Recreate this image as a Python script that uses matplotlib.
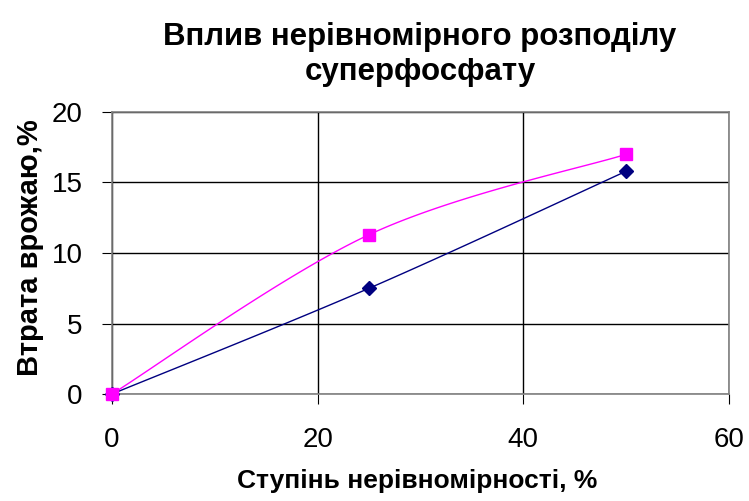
import numpy as np
import matplotlib
matplotlib.use("Agg")
import matplotlib.pyplot as plt

plt.rcParams['font.family'] = ['Liberation Sans', 'DejaVu Sans']

x = [0, 25, 50]
loss_a = [0, 7.5, 15.8]     # navy diamonds
loss_b = [0, 11.3, 17.0]    # magenta squares
xticks = [0, 20, 40, 60]
yticks = [0, 5, 10, 15, 20]

title_lines = ["Вплив нерівномірного розподілу", "суперфосфату"]
xlabel = "Ступінь нерівномірності, %"
ylabel = "Втрата врожаю,%"


def smooth(xs, ys, n=60):
    P = np.column_stack([xs, ys]).astype(float)
    Pe = np.vstack([P[0], P, P[-1]])
    out = []
    for i in range(len(P) - 1):
        p0, p1, p2, p3 = Pe[i], Pe[i + 1], Pe[i + 2], Pe[i + 3]
        c1 = p1 + (p2 - p0) / 6
        c2 = p2 - (p3 - p1) / 6
        t = np.linspace(0, 1, n)[:, None]
        seg = ((1 - t) ** 3) * p1 + 3 * ((1 - t) ** 2) * t * c1 + 3 * (1 - t) * t ** 2 * c2 + t ** 3 * p2
        out.append(seg)
    s = np.vstack(out)
    return s[:, 0], s[:, 1]


W, H = 749, 501
fig = plt.figure(figsize=(W / 100, H / 100), dpi=100)
L, R, T, B = 112, 729, 112, 394
ax = fig.add_axes([L / W, 1 - B / H, (R - L) / W, (B - T) / H])

sx, sy = smooth(x, loss_a)
ax.plot(sx, sy, color='#000080', lw=1.0, zorder=3, clip_on=False)
ax.plot(x, loss_a, linestyle='none', marker='D', ms=7.5, color='#000080', zorder=4, clip_on=False)
sx, sy = smooth(x, loss_b)
ax.plot(sx, sy, color='#FF00FF', lw=1.0, zorder=3, clip_on=False)
ax.plot(x, loss_b, linestyle='none', marker='s', ms=9, color='#FF00FF', zorder=4, clip_on=False)

ax.set_xlim(0, 60)
ax.set_ylim(0, 20)
ax.set_xticks(xticks)
ax.set_yticks(yticks)
ax.grid(True, color='black', lw=1.0)
ax.set_axisbelow(True)
for sp in ax.spines.values():
    sp.set_color('#808080')
    sp.set_linewidth(1.2)
ax.tick_params(axis='x', labelsize=20, length=7, color='black', pad=17)
ax.tick_params(axis='y', labelsize=20, length=7, color='black', pad=14)

fig.text(417 / W, 1 - 481 / H, xlabel, ha='center', va='center', fontsize=19, fontweight='bold')
fig.text(30 / W, 1 - 248 / H, ylabel, ha='center', va='center', fontsize=21, fontweight='bold', rotation=90)
fig.text(420 / W, 1 - 37 / H, title_lines[0], ha='center', va='center', fontsize=22.5, fontweight='bold')
fig.text(420 / W, 1 - 72 / H, title_lines[1], ha='center', va='center', fontsize=22.5, fontweight='bold')

fig.savefig("out.png", dpi=100)
